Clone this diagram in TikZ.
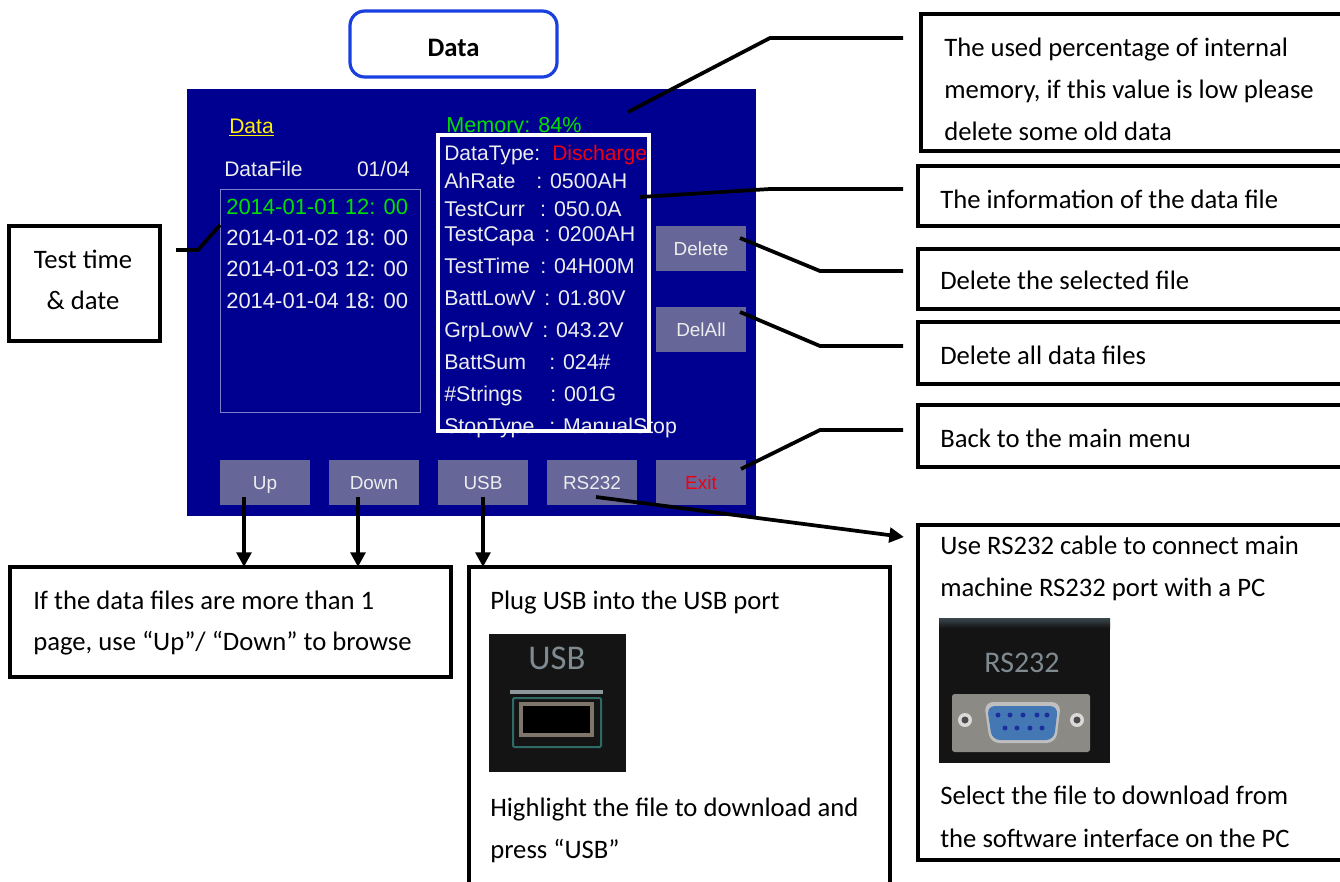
\documentclass[tikz,border=0pt]{standalone}
\usepackage{fontspec}
\setmainfont{Carlito}
\newfontfamily\scr{Liberation Sans}
\usetikzlibrary{arrows.meta,calc}
\definecolor{scrblue}{HTML}{000090}
\definecolor{btn}{HTML}{666699}
\definecolor{scrwhite}{HTML}{EDEDED}
\definecolor{scrgreen}{HTML}{00E000}
\definecolor{scrred}{HTML}{F00010}
\definecolor{titleblue}{HTML}{1A3FE0}
\definecolor{photo}{HTML}{141414}
\definecolor{phototext}{HTML}{7F8B90}
\definecolor{portblue}{HTML}{4478B4}
\definecolor{ring}{HTML}{7E766A}
\definecolor{rim}{HTML}{2F6A66}
\definecolor{plate}{HTML}{8C8A84}
\definecolor{stripe}{HTML}{3A474E}
\newcommand{\kv}[3]{\makebox[\dimexpr #1pt*3/4\relax][l]{#2}#3}
\tikzset{
  px/.style 2 args={minimum width=#1*0.75pt,minimum height=#2*0.75pt},
  callout/.style={draw=black,line width=2.8pt,fill=white,anchor=north west,inner sep=0pt,outer sep=0pt},
  calltext/.style={anchor=base west,inner sep=0pt,align=left,font=\fontsize{20}{24}\selectfont},
  scrtext/.style={anchor=base west,inner sep=0pt,text=scrwhite,font=\scr\fontsize{15.8}{18}\selectfont},
  infotext/.style={scrtext,font=\scr\fontsize{16}{18}\selectfont},
  listtext/.style={scrtext,font=\scr\fontsize{16.5}{18}\selectfont},
  button/.style={fill=btn,inner sep=0pt,outer sep=0pt,anchor=north west,text=scrwhite,text height=10.5pt,text depth=0pt,font=\scr\fontsize{14.2}{16}\selectfont,px={90}{45}},
  conn/.style={draw=black,line width=2.8pt,line join=miter},
  arr/.style={conn,-{Triangle[length=11pt,width=11pt]}},
}
\begin{document}
\begin{tikzpicture}[x=0.75pt,y=-0.75pt]
\useasboundingbox (0,0) rectangle (1340,882);
\clip (0,0) rectangle (1340,882);
\fill[white] (0,0) rectangle (1340,882);

% title
\node[draw=titleblue,line width=2.4pt,rounded corners=11pt,px={207}{66},anchor=north west,outer sep=0pt] (title) at (350,11) {};
\node[calltext,anchor=base,font=\fontsize{20}{24}\selectfont\bfseries] (titletext) at (453.5,56) {Data};

% screen
\node[fill=scrblue,inner sep=0pt,outer sep=0pt,anchor=north west,px={569}{427}] (screen) at (187,89) {};
\node[draw=white!50!scrblue,line width=0.75pt,fill=none,inner sep=0pt,outer sep=0pt,anchor=north west,px={200}{223}] (listbox) at (220,189) {};

\node[scrtext,text=yellow] (hdata) at (229,133) {\underline{Data}};
\node[scrtext,text=scrgreen,font=\scr\fontsize{16.2}{18}\selectfont] (memory) at (446,132) {Memory: 84\%};
\node[scrtext] (datafile) at (224,176) {DataFile};
\node[scrtext,anchor=base east] (pageno) at (410,176) {01/04};
\node[listtext,text=scrgreen] (l1) at (226,214) {2014-01-01 12: 00};
\node[listtext] (l2) at (226,245) {2014-01-02 18: 00};
\node[listtext] (l3) at (226,276) {2014-01-03 12: 00};
\node[listtext] (l4) at (226,308) {2014-01-04 18: 00};

\node[scrtext] (i1) at (444,160) {DataType:};
\node[infotext] (i2) at (444,188) {\kv{92}{AhRate}{: 0500AH}};
\node[infotext] (i3) at (444,216) {\kv{96}{TestCurr}{: 050.0A}};
\node[infotext] (i4) at (444,241) {\kv{100}{TestCapa}{: 0200AH}};
\node[infotext] (i5) at (444,273) {\kv{96}{TestTime}{: 04H00M}};
\node[infotext] (i6) at (444,305) {\kv{100}{BattLowV}{: 01.80V}};
\node[infotext] (i7) at (444,337) {\kv{98}{GrpLowV}{: 043.2V}};
\node[infotext] (i8) at (444,369) {\kv{105}{BattSum}{: 024\#}};
\node[infotext] (i9) at (444,401) {\kv{106}{\#Strings}{: 001G}};
\node[infotext] (i10) at (444,433) {\kv{105}{StopType}{: ManualStop}};
\node[draw=white,line width=2.4pt,fill=none,inner sep=0pt,outer sep=0pt,anchor=north west,px={211}{296}] (infobox) at (438,135) {};
\node[scrtext,text=scrred] (i1b) at (552,160) {Discharge};

\node[button] (delete) at (656,226) {Delete};
\node[button] (delall) at (656,307) {DelAll};
\node[button] (up) at (220,460) {Up};
\node[button] (down) at (329,460) {Down};
\node[button] (usb) at (438,460) {USB};
\node[button] (rs) at (547,460) {RS232};
\node[button,text=scrred] (exit) at (656,460) {Exit};

% callouts
\node[callout,px={151}{115}] (bTest) at (9,226) {};
\node[calltext,anchor=base] (tTest1) at (83,268) {Test time};
\node[calltext,anchor=base] (tTest2) at (83,309) {\& date};
\node[callout,px={425}{137}] (bMem) at (921,14) {};
\node[calltext] (tMem1) at (944,56) {The used percentage of internal};
\node[calltext] (tMem2) at (944,98) {memory, if this value is low please};
\node[calltext] (tMem3) at (944,140) {delete some old data};
\node[callout,px={425}{60}] (bInfo) at (918,166) {};
\node[calltext] (tInfo) at (940,208) {The information of the data file};
\node[callout,px={425}{60}] (bDel) at (918,249) {};
\node[calltext] (tDel) at (940,289) {Delete the selected file};
\node[callout,px={425}{62}] (bDelAll) at (918,322) {};
\node[calltext] (tDelAll) at (940,364) {Delete all data files};
\node[callout,px={425}{62}] (bBack) at (918,405) {};
\node[calltext] (tBack) at (940,447) {Back to the main menu};

\node[callout,px={441}{110}] (bUp) at (10,567) {};
\node[calltext] (tUp1) at (33,609) {If the data files are more than 1};
\node[calltext] (tUp2) at (33,650) {page, use “Up”/ “Down” to browse};

\node[callout,px={421}{330}] (bUsb) at (469,567) {};
\node[calltext] (tUsb1) at (490,609) {Plug USB into the USB port};
\node[calltext] (tUsb2) at (490,816) {Highlight the file to download and};
\node[calltext] (tUsb3) at (490,858) {press “USB”};

\node[callout,px={425}{335}] (bRs) at (918,525) {};
\node[calltext] (tRs1) at (940,554) {Use RS232 cable to connect main};
\node[calltext] (tRs2) at (940,596) {machine RS232 port with a PC};
\node[calltext] (tRs3) at (940,804) {Select the file to download from};
\node[calltext] (tRs4) at (940,847) {the software interface on the PC};

% USB photo
\fill[photo] (489,634) rectangle (626,772);
\node[text=phototext,inner sep=0pt,font=\fontsize{26}{28}\selectfont] (pUsb) at (557,658) {USB};
\fill[phototext!90!white] (510,690) rectangle (603,694);
\draw[draw=rim,line width=1.5pt,rounded corners=1pt] (513,698) rectangle (601,747);
\draw[draw=ring,line width=3pt] (521,704) rectangle (592,735);
\fill[black] (523,706) rectangle (590,733);

% RS232 photo
\fill[photo] (939,618) rectangle (1110,763);
\shade[top color=stripe,bottom color=photo] (939,618) rectangle (1110,628);
\node[text=phototext,inner sep=0pt,font=\fontsize{22.5}{24}\selectfont] (pRs) at (1022,663) {RS232};
\fill[plate,rounded corners=2pt] (952,694) rectangle (1090,752);
\fill[white!70!gray] (965,720) circle[radius=7];
\fill[black!70] (965,720) circle[radius=3.5];
\fill[white!70!gray] (1077,720) circle[radius=7];
\fill[black!70] (1077,720) circle[radius=3.5];
\fill[gray!50!white,rounded corners=7pt] (984,702) -- (1061,702) -- (1056,743) -- (990,743) -- cycle;
\fill[portblue,rounded corners=6pt] (987,706) -- (1058,706) -- (1054,740) -- (992,740) -- cycle;
\foreach \px in {998,1010,1023,1037,1047}{\fill[black!45!blue!60!portblue] (\px,715) circle[radius=2.5];}
\foreach \px in {1005,1017,1030,1042}{\fill[black!45!blue!60!portblue] (\px,728) circle[radius=2.5];}

% free ends of connectors
\coordinate (cMem) at (628,112);
\coordinate (cInfo) at (640,197);
\coordinate (cDel) at (740,238);
\coordinate (cDelAll) at (740,312);
\coordinate (cExit) at (741,469);
\coordinate (cRs) at (596,497);
\coordinate (cRsEnd) at (904,537);
\coordinate (cTestA) at (176,250);
\coordinate (cTestB) at (220,225);
\coordinate (cUp) at (244,497);
\coordinate (cDown) at (358,497);
\coordinate (cUsb) at (483,497);
\coordinate (eMem) at (903,38);
\coordinate (eInfo) at (903,189);
\coordinate (eDel) at (903,271);
\coordinate (eDelAll) at (903,346);
\coordinate (eBack) at (903,430);

\path[conn] (cMem) -- (770,38) -- (eMem);
\path[conn] (cInfo) -- (770,189) -- (eInfo);
\path[conn] (cDel) -- (820,271) -- (eDel);
\path[conn] (cDelAll) -- (820,346) -- (eDelAll);
\path[conn] (cExit) -- (820,430) -- (eBack);
\path[conn] (cTestA) -- (198,250) -- (cTestB);
\path[arr] (cRs) -- (cRsEnd);
\path[arr] (cUp) -- (cUp |- bUp.north);
\path[arr] (cDown) -- (cDown |- bUp.north);
\path[arr] (cUsb) -- (cUsb |- bUsb.north);
\end{tikzpicture}
\end{document}
